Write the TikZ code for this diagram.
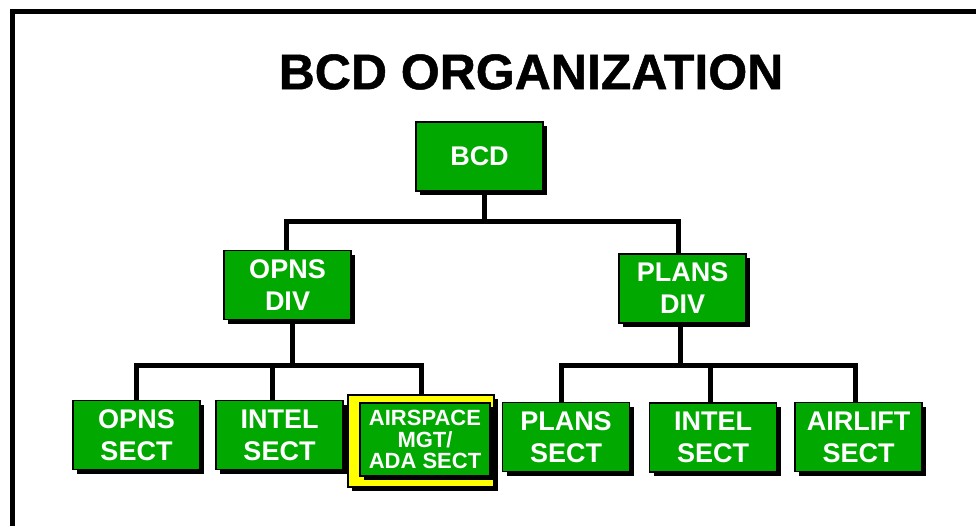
\documentclass[tikz,border=0pt]{standalone}
\usepackage{fontspec}
\setmainfont{Liberation Sans}
\usetikzlibrary{shadows}
\definecolor{boxgreen}{RGB}{0,168,0}
\definecolor{hiyellow}{RGB}{255,255,0}
\tikzset{
  orgbox/.style={draw=black, line width=1.2pt, fill=boxgreen, text=white,
    font=\bfseries\fontsize{27}{32}\selectfont, align=center, inner sep=0pt,
    minimum width=127pt, minimum height=69pt,
    general shadow={fill=black, shadow xshift=4pt, shadow yshift=-4pt}},
  link/.style={line width=5pt}
}
\begin{document}
\begin{tikzpicture}[x=1pt, y=-1pt, line join=miter]
            \def\busA{221} \def\busB{365}
            \clip (0,0) rectangle (976,525);
            \draw[line width=5pt] (12,11) rectangle (1000,560);
            \node (title) at (531,72) {\bfseries\addfontfeature{FakeBold=1}\fontsize{50}{50}\selectfont BCD ORGANIZATION};
            % top and division level
            \node[orgbox] (bcd) at (479.5,156.5) {BCD};
            \node[orgbox] (opnsdiv) at (287.5,285) {OPNS\\DIV};
            \node[orgbox] (plansdiv) at (682.5,288.5) {PLANS\\DIV};
            % section level
            \node[orgbox] (opnssect) at (136.5,435) {OPNS\\SECT};
            \node[orgbox] (intelsect) at (279.5,435) {INTEL\\SECT};
            \node[draw=black, line width=1.2pt, fill=hiyellow, minimum width=146pt, minimum height=92pt,
              general shadow={fill=black, shadow xshift=4pt, shadow yshift=-4pt}] (airframe) at (421,441) {};
            \node[orgbox, minimum width=130pt, minimum height=73pt,
              font=\bfseries\fontsize{22}{21.5}\selectfont] (airsect) at (425,439.5) {AIRSPACE\\MGT/\\ADA SECT};
            \node[orgbox] (planssect) at (566,437) {PLANS\\SECT};
            \node[orgbox] (intelsectb) at (713,437.5) {INTEL\\SECT};
            \node[orgbox] (airliftsect) at (858.5,437) {AIRLIFT\\SECT};
            % bus points
            \coordinate (busA) at (0,\busA);
            \coordinate (busB) at (0,\busB);
            \coordinate (bcd-bot) at ([xshift=4.5pt]bcd.south);
            \coordinate (od-top) at ([xshift=-1.5pt]opnsdiv.north);
            \coordinate (od-bot) at ([xshift=4.5pt]opnsdiv.south);
            \coordinate (pd-top) at ([xshift=-4.5pt]plansdiv.north);
            \coordinate (pd-bot) at ([xshift=-2.5pt]plansdiv.south);
            \coordinate (is-top) at ([xshift=-7.5pt]intelsect.north);
            \coordinate (ps-top) at ([xshift=-5pt]planssect.north);
            \coordinate (ib-top) at ([xshift=-3pt]intelsectb.north);
            \coordinate (al-top) at ([xshift=-3.5pt]airliftsect.north);
            % connectors
            \draw[link] (bcd-bot) -- (bcd-bot |- busA);
            \draw[link] (od-top) |- (pd-top |- busA) -- (pd-top);
            \draw[link] (od-bot) -- (od-bot |- busB);
            \draw[link] (opnssect.north) |- (airframe.north |- busB) -- (airframe.north);
            \draw[link] (is-top) -- (is-top |- busB);
            \draw[link] (pd-bot) -- (pd-bot |- busB);
            \draw[link] (ps-top) |- (al-top |- busB) -- (al-top);
            \draw[link] (ib-top) -- (ib-top |- busB);
\end{tikzpicture}
\end{document}
